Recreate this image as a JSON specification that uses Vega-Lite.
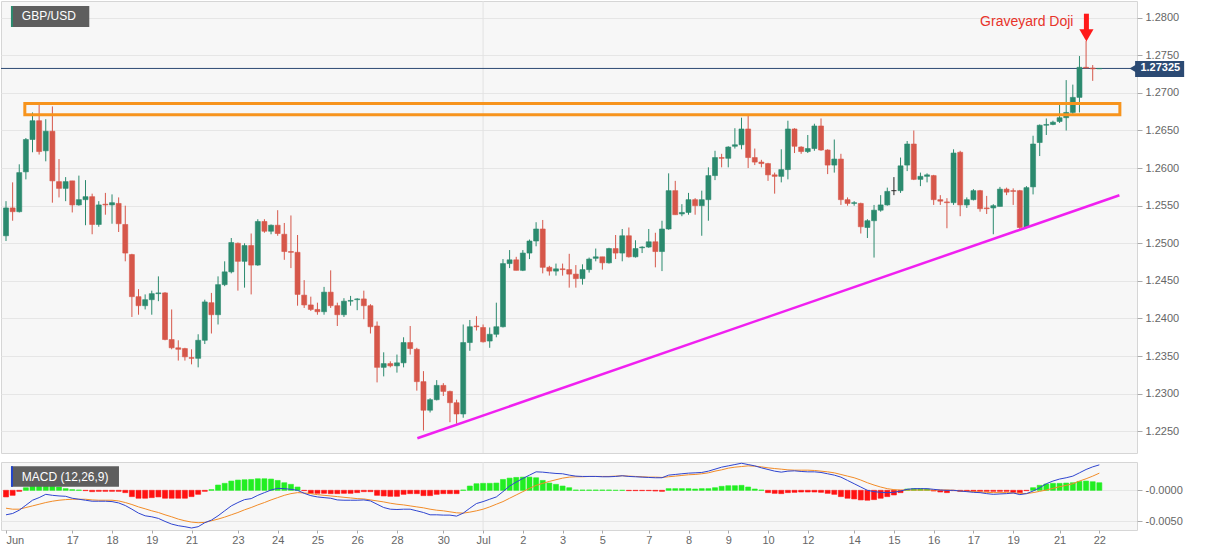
{
  "$schema": "https://vega.github.io/schema/vega-lite/v6.json",
  "background": "#ffffff",
  "padding": 0,
  "spacing": 7,
  "config": {
    "view": {"fill": "#f7f7f7", "stroke": "#d6d6d6"},
    "font": "Liberation Sans",
    "axis": {"labelFont": "Liberation Sans", "labelFontSize": 11, "labelColor": "#666666", "domain": false, "tickColor": "#aaaaaa", "gridColor": "#e6e6e6", "labelOverlap": false}
  },
  "resolve": {"scale": {"x": "independent", "y": "independent"}},
  "datasets": {
    "candles": [
      {"i":0,"open":1.2510,"high":1.2556,"low":1.2503,"close":1.2547,"macd":-0.00393,"signal":-0.00287,"hist":-0.00106},
      {"i":1,"open":1.2547,"high":1.2581,"low":1.2530,"close":1.2542,"macd":-0.00372,"signal":-0.00303,"hist":-0.00080},
      {"i":2,"open":1.2542,"high":1.2605,"low":1.2541,"close":1.2594,"macd":-0.00319,"signal":-0.00303,"hist":-0.00016},
      {"i":3,"open":1.2595,"high":1.2640,"low":1.2585,"close":1.2638,"macd":-0.00239,"signal":-0.00276,"hist":0.00042},
      {"i":4,"open":1.2638,"high":1.2674,"low":1.2621,"close":1.2663,"macd":-0.00159,"signal":-0.00250,"hist":0.00096},
      {"i":5,"open":1.2663,"high":1.2684,"low":1.2618,"close":1.2622,"macd":-0.00117,"signal":-0.00223,"hist":0.00117},
      {"i":6,"open":1.2623,"high":1.2665,"low":1.2609,"close":1.2649,"macd":-0.00064,"signal":-0.00196,"hist":0.00117},
      {"i":7,"open":1.2649,"high":1.2682,"low":1.2554,"close":1.2583,"macd":-0.00080,"signal":-0.00175,"hist":0.00085},
      {"i":8,"open":1.2582,"high":1.2612,"low":1.2561,"close":1.2573,"macd":-0.00090,"signal":-0.00159,"hist":0.00053},
      {"i":9,"open":1.2573,"high":1.2588,"low":1.2556,"close":1.2582,"macd":-0.00096,"signal":-0.00149,"hist":0.00027},
      {"i":10,"open":1.2583,"high":1.2583,"low":1.2541,"close":1.2551,"macd":-0.00127,"signal":-0.00143,"hist":0.00011},
      {"i":11,"open":1.2551,"high":1.2590,"low":1.2550,"close":1.2558,"macd":-0.00143,"signal":-0.00143,"hist":0.00005},
      {"i":12,"open":1.2558,"high":1.2584,"low":1.2524,"close":1.2562,"macd":-0.00159,"signal":-0.00143,"hist":-0.00005},
      {"i":13,"open":1.2562,"high":1.2566,"low":1.2512,"close":1.2525,"macd":-0.00175,"signal":-0.00154,"hist":-0.00021},
      {"i":14,"open":1.2525,"high":1.2556,"low":1.2522,"close":1.2551,"macd":-0.00175,"signal":-0.00159,"hist":-0.00016},
      {"i":15,"open":1.2552,"high":1.2567,"low":1.2538,"close":1.2551,"macd":-0.00175,"signal":-0.00159,"hist":-0.00016},
      {"i":16,"open":1.2551,"high":1.2565,"low":1.2526,"close":1.2554,"macd":-0.00181,"signal":-0.00159,"hist":-0.00016},
      {"i":17,"open":1.2553,"high":1.2561,"low":1.2515,"close":1.2526,"macd":-0.00202,"signal":-0.00170,"hist":-0.00016},
      {"i":18,"open":1.2525,"high":1.2550,"low":1.2476,"close":1.2487,"macd":-0.00244,"signal":-0.00196,"hist":-0.00037},
      {"i":19,"open":1.2485,"high":1.2486,"low":1.2402,"close":1.2429,"macd":-0.00303,"signal":-0.00228,"hist":-0.00101},
      {"i":20,"open":1.2429,"high":1.2439,"low":1.2405,"close":1.2417,"macd":-0.00366,"signal":-0.00266,"hist":-0.00127},
      {"i":21,"open":1.2417,"high":1.2432,"low":1.2412,"close":1.2425,"macd":-0.00409,"signal":-0.00297,"hist":-0.00127},
      {"i":22,"open":1.2425,"high":1.2437,"low":1.2405,"close":1.2433,"macd":-0.00425,"signal":-0.00329,"hist":-0.00117},
      {"i":23,"open":1.2433,"high":1.2456,"low":1.2423,"close":1.2434,"macd":-0.00451,"signal":-0.00356,"hist":-0.00106},
      {"i":24,"open":1.2434,"high":1.2435,"low":1.2371,"close":1.2372,"macd":-0.00499,"signal":-0.00393,"hist":-0.00127},
      {"i":25,"open":1.2372,"high":1.2412,"low":1.2359,"close":1.2361,"macd":-0.00542,"signal":-0.00425,"hist":-0.00127},
      {"i":26,"open":1.2361,"high":1.2371,"low":1.2344,"close":1.2359,"macd":-0.00568,"signal":-0.00462,"hist":-0.00127},
      {"i":27,"open":1.2360,"high":1.2361,"low":1.2344,"close":1.2349,"macd":-0.00584,"signal":-0.00489,"hist":-0.00127},
      {"i":28,"open":1.2348,"high":1.2359,"low":1.2339,"close":1.2347,"macd":-0.00605,"signal":-0.00510,"hist":-0.00101},
      {"i":29,"open":1.2347,"high":1.2379,"low":1.2335,"close":1.2371,"macd":-0.00584,"signal":-0.00520,"hist":-0.00064},
      {"i":30,"open":1.2371,"high":1.2425,"low":1.2366,"close":1.2422,"macd":-0.00520,"signal":-0.00515,"hist":-0.00016},
      {"i":31,"open":1.2421,"high":1.2434,"low":1.2380,"close":1.2405,"macd":-0.00478,"signal":-0.00489,"hist":0.00011},
      {"i":32,"open":1.2405,"high":1.2456,"low":1.2392,"close":1.2445,"macd":-0.00409,"signal":-0.00462,"hist":0.00085},
      {"i":33,"open":1.2445,"high":1.2476,"low":1.2443,"close":1.2462,"macd":-0.00329,"signal":-0.00430,"hist":0.00112},
      {"i":34,"open":1.2462,"high":1.2507,"low":1.2460,"close":1.2501,"macd":-0.00250,"signal":-0.00393,"hist":0.00149},
      {"i":35,"open":1.2500,"high":1.2501,"low":1.2437,"close":1.2476,"macd":-0.00196,"signal":-0.00356,"hist":0.00165},
      {"i":36,"open":1.2476,"high":1.2500,"low":1.2441,"close":1.2497,"macd":-0.00149,"signal":-0.00313,"hist":0.00170},
      {"i":37,"open":1.2497,"high":1.2513,"low":1.2432,"close":1.2471,"macd":-0.00133,"signal":-0.00276,"hist":0.00175},
      {"i":38,"open":1.2471,"high":1.2532,"low":1.2470,"close":1.2529,"macd":-0.00080,"signal":-0.00234,"hist":0.00186},
      {"i":39,"open":1.2529,"high":1.2532,"low":1.2514,"close":1.2516,"macd":-0.00037,"signal":-0.00196,"hist":0.00186},
      {"i":40,"open":1.2516,"high":1.2525,"low":1.2512,"close":1.2524,"macd":0.00005,"signal":-0.00154,"hist":0.00181},
      {"i":41,"open":1.2524,"high":1.2544,"low":1.2510,"close":1.2513,"macd":0.00032,"signal":-0.00117,"hist":0.00159},
      {"i":42,"open":1.2512,"high":1.2527,"low":1.2478,"close":1.2489,"macd":0.00027,"signal":-0.00080,"hist":0.00122},
      {"i":43,"open":1.2489,"high":1.2537,"low":1.2467,"close":1.2488,"macd":0.00016,"signal":-0.00053,"hist":0.00096},
      {"i":44,"open":1.2488,"high":1.2511,"low":1.2417,"close":1.2432,"macd":0.00000,"signal":-0.00037,"hist":0.00053},
      {"i":45,"open":1.2431,"high":1.2451,"low":1.2414,"close":1.2418,"macd":-0.00048,"signal":-0.00042,"hist":-0.00005},
      {"i":46,"open":1.2418,"high":1.2429,"low":1.2410,"close":1.2412,"macd":-0.00085,"signal":-0.00053,"hist":-0.00048},
      {"i":47,"open":1.2412,"high":1.2421,"low":1.2405,"close":1.2409,"macd":-0.00106,"signal":-0.00069,"hist":-0.00048},
      {"i":48,"open":1.2409,"high":1.2442,"low":1.2405,"close":1.2435,"macd":-0.00117,"signal":-0.00080,"hist":-0.00048},
      {"i":49,"open":1.2435,"high":1.2464,"low":1.2414,"close":1.2417,"macd":-0.00127,"signal":-0.00090,"hist":-0.00053},
      {"i":50,"open":1.2417,"high":1.2421,"low":1.2390,"close":1.2405,"macd":-0.00154,"signal":-0.00101,"hist":-0.00053},
      {"i":51,"open":1.2405,"high":1.2427,"low":1.2402,"close":1.2423,"macd":-0.00159,"signal":-0.00112,"hist":-0.00048},
      {"i":52,"open":1.2423,"high":1.2430,"low":1.2417,"close":1.2424,"macd":-0.00159,"signal":-0.00122,"hist":-0.00048},
      {"i":53,"open":1.2425,"high":1.2427,"low":1.2411,"close":1.2426,"macd":-0.00159,"signal":-0.00133,"hist":-0.00037},
      {"i":54,"open":1.2426,"high":1.2437,"low":1.2399,"close":1.2417,"macd":-0.00154,"signal":-0.00138,"hist":-0.00021},
      {"i":55,"open":1.2417,"high":1.2419,"low":1.2380,"close":1.2389,"macd":-0.00170,"signal":-0.00154,"hist":-0.00021},
      {"i":56,"open":1.2390,"high":1.2396,"low":1.2315,"close":1.2335,"macd":-0.00223,"signal":-0.00170,"hist":-0.00080},
      {"i":57,"open":1.2335,"high":1.2355,"low":1.2323,"close":1.2340,"macd":-0.00276,"signal":-0.00186,"hist":-0.00090},
      {"i":58,"open":1.2340,"high":1.2343,"low":1.2335,"close":1.2337,"macd":-0.00303,"signal":-0.00207,"hist":-0.00096},
      {"i":59,"open":1.2337,"high":1.2352,"low":1.2328,"close":1.2341,"macd":-0.00308,"signal":-0.00223,"hist":-0.00096},
      {"i":60,"open":1.2341,"high":1.2375,"low":1.2335,"close":1.2368,"macd":-0.00303,"signal":-0.00234,"hist":-0.00064},
      {"i":61,"open":1.2368,"high":1.2390,"low":1.2352,"close":1.2360,"macd":-0.00303,"signal":-0.00250,"hist":-0.00053},
      {"i":62,"open":1.2359,"high":1.2361,"low":1.2304,"close":1.2316,"macd":-0.00329,"signal":-0.00266,"hist":-0.00053},
      {"i":63,"open":1.2316,"high":1.2330,"low":1.2251,"close":1.2278,"macd":-0.00356,"signal":-0.00281,"hist":-0.00085},
      {"i":64,"open":1.2278,"high":1.2294,"low":1.2275,"close":1.2292,"macd":-0.00393,"signal":-0.00303,"hist":-0.00085},
      {"i":65,"open":1.2292,"high":1.2318,"low":1.2291,"close":1.2311,"macd":-0.00393,"signal":-0.00319,"hist":-0.00064},
      {"i":66,"open":1.2311,"high":1.2314,"low":1.2297,"close":1.2303,"macd":-0.00398,"signal":-0.00329,"hist":-0.00053},
      {"i":67,"open":1.2303,"high":1.2304,"low":1.2262,"close":1.2288,"macd":-0.00398,"signal":-0.00345,"hist":-0.00053},
      {"i":68,"open":1.2288,"high":1.2292,"low":1.2260,"close":1.2273,"macd":-0.00414,"signal":-0.00361,"hist":-0.00053},
      {"i":69,"open":1.2273,"high":1.2392,"low":1.2268,"close":1.2368,"macd":-0.00366,"signal":-0.00366,"hist":0.00005},
      {"i":70,"open":1.2368,"high":1.2398,"low":1.2357,"close":1.2389,"macd":-0.00287,"signal":-0.00350,"hist":0.00069},
      {"i":71,"open":1.2390,"high":1.2403,"low":1.2384,"close":1.2389,"macd":-0.00212,"signal":-0.00329,"hist":0.00106},
      {"i":72,"open":1.2388,"high":1.2392,"low":1.2368,"close":1.2369,"macd":-0.00181,"signal":-0.00303,"hist":0.00112},
      {"i":73,"open":1.2370,"high":1.2388,"low":1.2361,"close":1.2379,"macd":-0.00143,"signal":-0.00266,"hist":0.00112},
      {"i":74,"open":1.2379,"high":1.2421,"low":1.2375,"close":1.2389,"macd":-0.00106,"signal":-0.00223,"hist":0.00117},
      {"i":75,"open":1.2389,"high":1.2479,"low":1.2388,"close":1.2473,"macd":-0.00021,"signal":-0.00181,"hist":0.00175},
      {"i":76,"open":1.2473,"high":1.2491,"low":1.2467,"close":1.2478,"macd":0.00069,"signal":-0.00127,"hist":0.00196},
      {"i":77,"open":1.2478,"high":1.2482,"low":1.2464,"close":1.2464,"macd":0.00133,"signal":-0.00074,"hist":0.00207},
      {"i":78,"open":1.2464,"high":1.2491,"low":1.2463,"close":1.2487,"macd":0.00191,"signal":-0.00021,"hist":0.00212},
      {"i":79,"open":1.2487,"high":1.2505,"low":1.2479,"close":1.2503,"macd":0.00244,"signal":0.00032,"hist":0.00212},
      {"i":80,"open":1.2503,"high":1.2528,"low":1.2496,"close":1.2519,"macd":0.00297,"signal":0.00080,"hist":0.00202},
      {"i":81,"open":1.2519,"high":1.2531,"low":1.2460,"close":1.2468,"macd":0.00292,"signal":0.00112,"hist":0.00159},
      {"i":82,"open":1.2468,"high":1.2470,"low":1.2457,"close":1.2463,"macd":0.00281,"signal":0.00143,"hist":0.00117},
      {"i":83,"open":1.2463,"high":1.2473,"low":1.2457,"close":1.2466,"macd":0.00271,"signal":0.00170,"hist":0.00096},
      {"i":84,"open":1.2466,"high":1.2473,"low":1.2457,"close":1.2465,"macd":0.00266,"signal":0.00196,"hist":0.00069},
      {"i":85,"open":1.2465,"high":1.2486,"low":1.2441,"close":1.2459,"macd":0.00244,"signal":0.00212,"hist":0.00042},
      {"i":86,"open":1.2459,"high":1.2471,"low":1.2441,"close":1.2453,"macd":0.00228,"signal":0.00218,"hist":0.00005},
      {"i":87,"open":1.2453,"high":1.2472,"low":1.2445,"close":1.2465,"macd":0.00223,"signal":0.00218,"hist":0.00005},
      {"i":88,"open":1.2465,"high":1.2481,"low":1.2461,"close":1.2479,"macd":0.00223,"signal":0.00223,"hist":0.00005},
      {"i":89,"open":1.2480,"high":1.2493,"low":1.2476,"close":1.2482,"macd":0.00223,"signal":0.00223,"hist":0.00005},
      {"i":90,"open":1.2482,"high":1.2482,"low":1.2465,"close":1.2474,"macd":0.00218,"signal":0.00223,"hist":0.00005},
      {"i":91,"open":1.2474,"high":1.2494,"low":1.2473,"close":1.2493,"macd":0.00218,"signal":0.00223,"hist":0.00005},
      {"i":92,"open":1.2493,"high":1.2511,"low":1.2479,"close":1.2487,"macd":0.00223,"signal":0.00228,"hist":0.00000},
      {"i":93,"open":1.2487,"high":1.2519,"low":1.2476,"close":1.2510,"macd":0.00234,"signal":0.00234,"hist":0.00000},
      {"i":94,"open":1.2510,"high":1.2521,"low":1.2481,"close":1.2482,"macd":0.00223,"signal":0.00228,"hist":-0.00005},
      {"i":95,"open":1.2482,"high":1.2504,"low":1.2481,"close":1.2493,"macd":0.00218,"signal":0.00223,"hist":-0.00005},
      {"i":96,"open":1.2494,"high":1.2496,"low":1.2487,"close":1.2495,"macd":0.00212,"signal":0.00218,"hist":-0.00005},
      {"i":97,"open":1.2495,"high":1.2519,"low":1.2494,"close":1.2502,"macd":0.00207,"signal":0.00212,"hist":-0.00005},
      {"i":98,"open":1.2502,"high":1.2514,"low":1.2468,"close":1.2489,"macd":0.00202,"signal":0.00212,"hist":-0.00011},
      {"i":99,"open":1.2489,"high":1.2530,"low":1.2463,"close":1.2519,"macd":0.00202,"signal":0.00207,"hist":-0.00016},
      {"i":100,"open":1.2519,"high":1.2593,"low":1.2518,"close":1.2570,"macd":0.00244,"signal":0.00218,"hist":0.00027},
      {"i":101,"open":1.2570,"high":1.2583,"low":1.2538,"close":1.2538,"macd":0.00255,"signal":0.00228,"hist":0.00027},
      {"i":102,"open":1.2539,"high":1.2552,"low":1.2536,"close":1.2541,"macd":0.00266,"signal":0.00239,"hist":0.00027},
      {"i":103,"open":1.2541,"high":1.2567,"low":1.2538,"close":1.2558,"macd":0.00276,"signal":0.00250,"hist":0.00027},
      {"i":104,"open":1.2558,"high":1.2560,"low":1.2538,"close":1.2550,"macd":0.00281,"signal":0.00255,"hist":0.00021},
      {"i":105,"open":1.2550,"high":1.2570,"low":1.2510,"close":1.2558,"macd":0.00287,"signal":0.00266,"hist":0.00027},
      {"i":106,"open":1.2558,"high":1.2601,"low":1.2530,"close":1.2590,"macd":0.00308,"signal":0.00281,"hist":0.00027},
      {"i":107,"open":1.2590,"high":1.2623,"low":1.2584,"close":1.2614,"macd":0.00340,"signal":0.00308,"hist":0.00042},
      {"i":108,"open":1.2614,"high":1.2619,"low":1.2601,"close":1.2613,"macd":0.00372,"signal":0.00329,"hist":0.00064},
      {"i":109,"open":1.2613,"high":1.2629,"low":1.2601,"close":1.2628,"macd":0.00393,"signal":0.00356,"hist":0.00074},
      {"i":110,"open":1.2629,"high":1.2653,"low":1.2626,"close":1.2631,"macd":0.00414,"signal":0.00372,"hist":0.00074},
      {"i":111,"open":1.2631,"high":1.2667,"low":1.2625,"close":1.2652,"macd":0.00435,"signal":0.00382,"hist":0.00080},
      {"i":112,"open":1.2652,"high":1.2671,"low":1.2600,"close":1.2614,"macd":0.00414,"signal":0.00393,"hist":0.00053},
      {"i":113,"open":1.2614,"high":1.2626,"low":1.2604,"close":1.2608,"macd":0.00393,"signal":0.00388,"hist":0.00021},
      {"i":114,"open":1.2608,"high":1.2611,"low":1.2601,"close":1.2606,"macd":0.00361,"signal":0.00377,"hist":0.00005},
      {"i":115,"open":1.2606,"high":1.2607,"low":1.2583,"close":1.2591,"macd":0.00335,"signal":0.00361,"hist":-0.00037},
      {"i":116,"open":1.2591,"high":1.2594,"low":1.2566,"close":1.2589,"macd":0.00308,"signal":0.00350,"hist":-0.00048},
      {"i":117,"open":1.2589,"high":1.2625,"low":1.2581,"close":1.2598,"macd":0.00292,"signal":0.00340,"hist":-0.00053},
      {"i":118,"open":1.2598,"high":1.2663,"low":1.2585,"close":1.2652,"macd":0.00308,"signal":0.00329,"hist":-0.00037},
      {"i":119,"open":1.2652,"high":1.2653,"low":1.2620,"close":1.2629,"macd":0.00313,"signal":0.00324,"hist":-0.00032},
      {"i":120,"open":1.2628,"high":1.2629,"low":1.2619,"close":1.2622,"macd":0.00303,"signal":0.00324,"hist":-0.00027},
      {"i":121,"open":1.2622,"high":1.2644,"low":1.2620,"close":1.2626,"macd":0.00297,"signal":0.00324,"hist":-0.00027},
      {"i":122,"open":1.2626,"high":1.2659,"low":1.2623,"close":1.2656,"macd":0.00297,"signal":0.00319,"hist":-0.00027},
      {"i":123,"open":1.2656,"high":1.2666,"low":1.2623,"close":1.2624,"macd":0.00287,"signal":0.00308,"hist":-0.00032},
      {"i":124,"open":1.2624,"high":1.2625,"low":1.2592,"close":1.2604,"macd":0.00266,"signal":0.00297,"hist":-0.00048},
      {"i":125,"open":1.2604,"high":1.2638,"low":1.2594,"close":1.2612,"macd":0.00244,"signal":0.00281,"hist":-0.00064},
      {"i":126,"open":1.2612,"high":1.2619,"low":1.2551,"close":1.2558,"macd":0.00212,"signal":0.00255,"hist":-0.00101},
      {"i":127,"open":1.2558,"high":1.2561,"low":1.2550,"close":1.2553,"macd":0.00159,"signal":0.00228,"hist":-0.00127},
      {"i":128,"open":1.2553,"high":1.2556,"low":1.2550,"close":1.2554,"macd":0.00106,"signal":0.00202,"hist":-0.00138},
      {"i":129,"open":1.2553,"high":1.2554,"low":1.2513,"close":1.2522,"macd":0.00053,"signal":0.00165,"hist":-0.00154},
      {"i":130,"open":1.2521,"high":1.2532,"low":1.2507,"close":1.2530,"macd":0.00000,"signal":0.00122,"hist":-0.00159},
      {"i":131,"open":1.2530,"high":1.2551,"low":1.2481,"close":1.2544,"macd":-0.00021,"signal":0.00085,"hist":-0.00149},
      {"i":132,"open":1.2544,"high":1.2564,"low":1.2542,"close":1.2551,"macd":-0.00032,"signal":0.00053,"hist":-0.00127},
      {"i":133,"open":1.2551,"high":1.2574,"low":1.2550,"close":1.2569,"macd":-0.00037,"signal":0.00027,"hist":-0.00101},
      {"i":134,"open":1.2570,"high":1.2588,"low":1.2564,"close":1.2570,"macd":-0.00032,"signal":0.00011,"hist":-0.00074},
      {"i":135,"open":1.2570,"high":1.2614,"low":1.2567,"close":1.2603,"macd":-0.00011,"signal":0.00005,"hist":-0.00037},
      {"i":136,"open":1.2604,"high":1.2636,"low":1.2596,"close":1.2632,"macd":0.00016,"signal":0.00005,"hist":0.00021},
      {"i":137,"open":1.2632,"high":1.2650,"low":1.2584,"close":1.2585,"macd":0.00027,"signal":0.00005,"hist":0.00027},
      {"i":138,"open":1.2585,"high":1.2594,"low":1.2576,"close":1.2589,"macd":0.00027,"signal":0.00005,"hist":0.00027},
      {"i":139,"open":1.2589,"high":1.2593,"low":1.2581,"close":1.2591,"macd":0.00027,"signal":0.00005,"hist":0.00021},
      {"i":140,"open":1.2590,"high":1.2591,"low":1.2551,"close":1.2558,"macd":0.00016,"signal":0.00005,"hist":-0.00011},
      {"i":141,"open":1.2558,"high":1.2564,"low":1.2551,"close":1.2556,"macd":0.00005,"signal":0.00005,"hist":-0.00027},
      {"i":142,"open":1.2555,"high":1.2560,"low":1.2520,"close":1.2554,"macd":0.00000,"signal":0.00005,"hist":-0.00037},
      {"i":143,"open":1.2554,"high":1.2625,"low":1.2551,"close":1.2620,"macd":0.00000,"signal":0.00000,"hist":-0.00005},
      {"i":144,"open":1.2621,"high":1.2623,"low":1.2536,"close":1.2551,"macd":-0.00011,"signal":-0.00011,"hist":-0.00016},
      {"i":145,"open":1.2551,"high":1.2561,"low":1.2547,"close":1.2558,"macd":-0.00021,"signal":-0.00016,"hist":-0.00016},
      {"i":146,"open":1.2558,"high":1.2572,"low":1.2557,"close":1.2570,"macd":-0.00032,"signal":-0.00021,"hist":-0.00016},
      {"i":147,"open":1.2570,"high":1.2571,"low":1.2542,"close":1.2546,"macd":-0.00037,"signal":-0.00027,"hist":-0.00016},
      {"i":148,"open":1.2547,"high":1.2563,"low":1.2539,"close":1.2546,"macd":-0.00053,"signal":-0.00032,"hist":-0.00016},
      {"i":149,"open":1.2547,"high":1.2552,"low":1.2512,"close":1.2550,"macd":-0.00064,"signal":-0.00037,"hist":-0.00016},
      {"i":150,"open":1.2549,"high":1.2575,"low":1.2549,"close":1.2572,"macd":-0.00058,"signal":-0.00037,"hist":-0.00016},
      {"i":151,"open":1.2572,"high":1.2574,"low":1.2564,"close":1.2568,"macd":-0.00053,"signal":-0.00037,"hist":-0.00016},
      {"i":152,"open":1.2570,"high":1.2573,"low":1.2551,"close":1.2569,"macd":-0.00042,"signal":-0.00042,"hist":-0.00032},
      {"i":153,"open":1.2570,"high":1.2571,"low":1.2519,"close":1.2521,"macd":-0.00069,"signal":-0.00048,"hist":-0.00037},
      {"i":154,"open":1.2521,"high":1.2576,"low":1.2520,"close":1.2574,"macd":-0.00053,"signal":-0.00053,"hist":-0.00005},
      {"i":155,"open":1.2575,"high":1.2643,"low":1.2565,"close":1.2632,"macd":-0.00011,"signal":-0.00037,"hist":0.00042},
      {"i":156,"open":1.2634,"high":1.2658,"low":1.2616,"close":1.2657,"macd":0.00042,"signal":-0.00016,"hist":0.00080},
      {"i":157,"open":1.2657,"high":1.2666,"low":1.2644,"close":1.2658,"macd":0.00106,"signal":0.00005,"hist":0.00101},
      {"i":158,"open":1.2658,"high":1.2663,"low":1.2657,"close":1.2661,"macd":0.00149,"signal":0.00032,"hist":0.00112},
      {"i":159,"open":1.2662,"high":1.2684,"low":1.2660,"close":1.2667,"macd":0.00181,"signal":0.00058,"hist":0.00112},
      {"i":160,"open":1.2667,"high":1.2717,"low":1.2650,"close":1.2674,"macd":0.00202,"signal":0.00080,"hist":0.00117},
      {"i":161,"open":1.2674,"high":1.2711,"low":1.2672,"close":1.2694,"macd":0.00228,"signal":0.00106,"hist":0.00122},
      {"i":162,"open":1.2694,"high":1.2749,"low":1.2674,"close":1.2734,"macd":0.00281,"signal":0.00149,"hist":0.00143},
      {"i":163,"open":1.2734,"high":1.2769,"low":1.2733,"close":1.2733,"macd":0.00335,"signal":0.00186,"hist":0.00149},
      {"i":164,"open":1.2733,"high":1.2737,"low":1.2716,"close":1.2732,"macd":0.00377,"signal":0.00228,"hist":0.00138},
      {"i":165,"open":1.2732,"high":1.2733,"low":1.2732,"close":1.27325,"macd":0.00409,"signal":0.00276,"hist":0.00122}
    ]
  },
  "vconcat": [
    {
      "width": 1136,
      "height": 452,
      "layer": [
        {
          "data": {"values": [{"month": "Jul", "i": 72}]},
          "mark": {"type": "rule", "color": "#e2e2e2", "strokeWidth": 1},
          "encoding": {
            "x": {"field": "i", "type": "quantitative", "scale": {"domain": [0, 169.93], "nice": false, "zero": false}, "axis": null, "title": null}
          }
        },
        {
          "data": {"values": [{"price": 1.27325}]},
          "mark": {"type": "rule", "color": "#2d4a73", "strokeWidth": 1},
          "encoding": {
            "y": {
              "field": "price", "type": "quantitative", "title": null,
              "scale": {"domain": [1.22211, 1.28222], "nice": false, "zero": false},
              "axis": {"orient": "right", "values": [1.225, 1.23, 1.235, 1.24, 1.245, 1.25, 1.255, 1.26, 1.265, 1.27, 1.275, 1.28], "format": ".4f", "tickSize": 5, "labelPadding": 3, "grid": true, "title": null}
            }
          }
        },
        {
          "data": {"name": "candles"},
          "mark": {"type": "rule", "strokeWidth": 1, "clip": true},
          "encoding": {
            "x": {"field": "i", "type": "quantitative", "axis": null, "title": null},
            "y": {"field": "low", "type": "quantitative", "title": null},
            "y2": {"field": "high"},
            "color": {
              "condition": [
                {"test": "datum.close > datum.open", "value": "#2b8a6e"},
                {"test": "datum.close == datum.open", "value": "#222222"}
              ],
              "value": "#d6574a"
            }
          }
        },
        {
          "data": {"name": "candles"},
          "mark": {"type": "bar", "width": 5, "strokeWidth": 0.6, "clip": true},
          "encoding": {
            "x": {"field": "i", "type": "quantitative", "axis": null, "title": null},
            "y": {"field": "open", "type": "quantitative", "title": null},
            "y2": {"field": "close"},
            "color": {
              "condition": [
                {"test": "datum.close > datum.open", "value": "#2b8a6e"},
                {"test": "datum.close == datum.open", "value": "#222222"}
              ],
              "value": "#d6574a"
            },
            "stroke": {
              "condition": [
                {"test": "datum.close > datum.open", "value": "#2b8a6e"},
                {"test": "datum.close == datum.open", "value": "#222222"}
              ],
              "value": "#d6574a"
            }
          }
        },
        {
          "data": {"values": [{"x1": 2.84, "x2": 168.1, "top": 1.2686, "bottom": 1.2671}]},
          "mark": {"type": "rect", "fillOpacity": 0, "stroke": "#f7941d", "strokeWidth": 3},
          "encoding": {
            "x": {"field": "x1", "type": "quantitative", "axis": null, "title": null},
            "x2": {"field": "x2"},
            "y": {"field": "top", "type": "quantitative", "title": null},
            "y2": {"field": "bottom"}
          }
        },
        {
          "data": {"values": [{"i": 62.08, "p": 1.22407}, {"i": 168.03, "p": 1.25638}]},
          "mark": {"type": "line", "color": "#f020f0", "strokeWidth": 2.5},
          "encoding": {
            "x": {"field": "i", "type": "quantitative", "axis": null, "title": null},
            "y": {"field": "p", "type": "quantitative", "title": null}
          }
        },
        {
          "data": {"values": [{"x1": 0.75, "x2": 12.57, "top": 1.28156, "bottom": 1.27876}]},
          "mark": {"type": "rect", "fill": "#5e5e5e"},
          "encoding": {
            "x": {"field": "x1", "type": "quantitative", "axis": null, "title": null},
            "x2": {"field": "x2"},
            "y": {"field": "top", "type": "quantitative", "title": null},
            "y2": {"field": "bottom"}
          }
        },
        {
          "data": {"values": [{"x1": 0.75, "x2": 1.05, "top": 1.28156, "bottom": 1.27876}]},
          "mark": {"type": "rect", "fill": "#2b8a6e"},
          "encoding": {
            "x": {"field": "x1", "type": "quantitative", "axis": null, "title": null},
            "x2": {"field": "x2"},
            "y": {"field": "top", "type": "quantitative", "title": null},
            "y2": {"field": "bottom"}
          }
        },
        {
          "data": {"values": [{"i": 2.39, "p": 1.28016, "label": "GBP/USD"}]},
          "mark": {"type": "text", "color": "#ffffff", "fontSize": 12, "align": "left", "baseline": "middle", "font": "Liberation Sans"},
          "encoding": {
            "x": {"field": "i", "type": "quantitative", "axis": null, "title": null},
            "y": {"field": "p", "type": "quantitative", "title": null},
            "text": {"field": "label"}
          }
        },
        {
          "data": {"values": [{"i": 161.1, "p": 1.27943, "label": "Graveyard Doji"}]},
          "mark": {"type": "text", "color": "#e8332a", "fontSize": 14, "align": "right", "baseline": "middle", "font": "Liberation Sans"},
          "encoding": {
            "x": {"field": "i", "type": "quantitative", "axis": null, "title": null},
            "y": {"field": "p", "type": "quantitative", "title": null},
            "text": {"field": "label"}
          }
        },
        {
          "data": {"values": [{"i": 163.05, "top": 1.28053, "bottom": 1.27810}]},
          "mark": {"type": "rule", "color": "#ff1a1a", "strokeWidth": 5},
          "encoding": {
            "x": {"field": "i", "type": "quantitative", "axis": null, "title": null},
            "y": {"field": "top", "type": "quantitative", "title": null},
            "y2": {"field": "bottom"}
          }
        },
        {
          "data": {"values": [{"i": 163.05, "p": 1.27766}]},
          "mark": {"type": "point", "shape": "triangle-down", "filled": true, "size": 200, "color": "#ff1a1a", "opacity": 1},
          "encoding": {
            "x": {"field": "i", "type": "quantitative", "axis": null, "title": null},
            "y": {"field": "p", "type": "quantitative", "title": null}
          }
        },
        {
          "data": {"values": [{"x1": 170.4, "x2": 177.8, "top": 1.27424, "bottom": 1.27211}]},
          "mark": {"type": "rect", "fill": "#2b4a73"},
          "encoding": {
            "x": {"field": "x1", "type": "quantitative", "axis": null, "title": null},
            "x2": {"field": "x2"},
            "y": {"field": "top", "type": "quantitative", "title": null},
            "y2": {"field": "bottom"}
          }
        },
        {
          "data": {"values": [{"i": 170.1, "p": 1.27325}]},
          "mark": {"type": "point", "shape": "triangle-left", "filled": true, "size": 70, "color": "#2b4a73", "opacity": 1},
          "encoding": {
            "x": {"field": "i", "type": "quantitative", "axis": null, "title": null},
            "y": {"field": "p", "type": "quantitative", "title": null}
          }
        },
        {
          "data": {"values": [{"i": 174.2, "p": 1.27325, "label": "1.27325"}]},
          "mark": {"type": "text", "color": "#ffffff", "fontSize": 11, "fontWeight": "bold", "align": "center", "baseline": "middle", "font": "Liberation Sans"},
          "encoding": {
            "x": {"field": "i", "type": "quantitative", "axis": null, "title": null},
            "y": {"field": "p", "type": "quantitative", "title": null},
            "text": {"field": "label"}
          }
        }
      ]
    },
    {
      "width": 1136,
      "height": 68,
      "layer": [
        {
          "data": {"values": [{"month": "Jul", "i": 72}]},
          "mark": {"type": "rule", "color": "#e2e2e2", "strokeWidth": 1},
          "encoding": {
            "x": {
              "field": "i", "type": "quantitative", "title": null,
              "scale": {"domain": [0, 169.93], "nice": false, "zero": false},
              "axis": {
                "values": [0, 10, 16, 22, 28, 35, 41, 47, 53, 59, 66, 72, 78, 84, 90, 97, 103, 109, 115, 121, 128, 134, 140, 146, 152, 159, 165],
                "labelExpr": "['Jun','17','18','19','21','23','24','25','26','28','30','Jul','2','3','5','7','8','9','10','12','14','15','16','17','19','21','22'][indexof([0,10,16,22,28,35,41,47,53,59,66,72,78,84,90,97,103,109,115,121,128,134,140,146,152,159,165], datum.value)]",
                "labelAlign": {"condition": {"test": "datum.value == 0", "value": "left"}, "value": "center"},
                "labelFlush": false,
                "tickSize": 3,
                "labelPadding": 1,
                "grid": false,
                "title": null
              }
            }
          }
        },
        {
          "data": {"name": "candles"},
          "mark": {"type": "bar", "width": 5, "strokeWidth": 0.6, "clip": true},
          "encoding": {
            "x": {"field": "i", "type": "quantitative", "title": null},
            "y": {
              "field": "hist", "type": "quantitative", "title": null,
              "scale": {"domain": [-0.00637, 0.00455], "nice": false, "zero": false},
              "axis": {"orient": "right", "values": [0, -0.005], "labelExpr": "datum.value == 0 ? '-0.0000' : '-0.0050'", "tickSize": 5, "labelPadding": 3, "grid": true, "title": null}
            },
            "y2": {"datum": 0},
            "color": {"condition": {"test": "datum.hist >= 0", "value": "#22ee22"}, "value": "#ff1111"},
            "stroke": {"condition": {"test": "datum.hist >= 0", "value": "#22ee22"}, "value": "#ff1111"}
          }
        },
        {
          "data": {"name": "candles"},
          "mark": {"type": "line", "color": "#f28c28", "strokeWidth": 1, "clip": true},
          "encoding": {
            "x": {"field": "i", "type": "quantitative", "title": null},
            "y": {"field": "signal", "type": "quantitative", "title": null}
          }
        },
        {
          "data": {"name": "candles"},
          "mark": {"type": "line", "color": "#2f45d0", "strokeWidth": 1, "clip": true},
          "encoding": {
            "x": {"field": "i", "type": "quantitative", "title": null},
            "y": {"field": "macd", "type": "quantitative", "title": null}
          }
        },
        {
          "data": {"values": [{"x1": 0.75, "x2": 17.05, "top": 0.00387, "bottom": 0.00057}]},
          "mark": {"type": "rect", "fill": "#5e5e5e"},
          "encoding": {
            "x": {"field": "x1", "type": "quantitative", "title": null},
            "x2": {"field": "x2"},
            "y": {"field": "top", "type": "quantitative", "title": null},
            "y2": {"field": "bottom"}
          }
        },
        {
          "data": {"values": [{"x1": 0.75, "x2": 1.05, "top": 0.00387, "bottom": 0.00057}]},
          "mark": {"type": "rect", "fill": "#2244cc"},
          "encoding": {
            "x": {"field": "x1", "type": "quantitative", "title": null},
            "x2": {"field": "x2"},
            "y": {"field": "top", "type": "quantitative", "title": null},
            "y2": {"field": "bottom"}
          }
        },
        {
          "data": {"values": [{"i": 2.39, "v": 0.00222, "label": "MACD (12,26,9)"}]},
          "mark": {"type": "text", "color": "#ffffff", "fontSize": 12, "align": "left", "baseline": "middle", "font": "Liberation Sans"},
          "encoding": {
            "x": {"field": "i", "type": "quantitative", "title": null},
            "y": {"field": "v", "type": "quantitative", "title": null},
            "text": {"field": "label"}
          }
        }
      ]
    }
  ]
}
